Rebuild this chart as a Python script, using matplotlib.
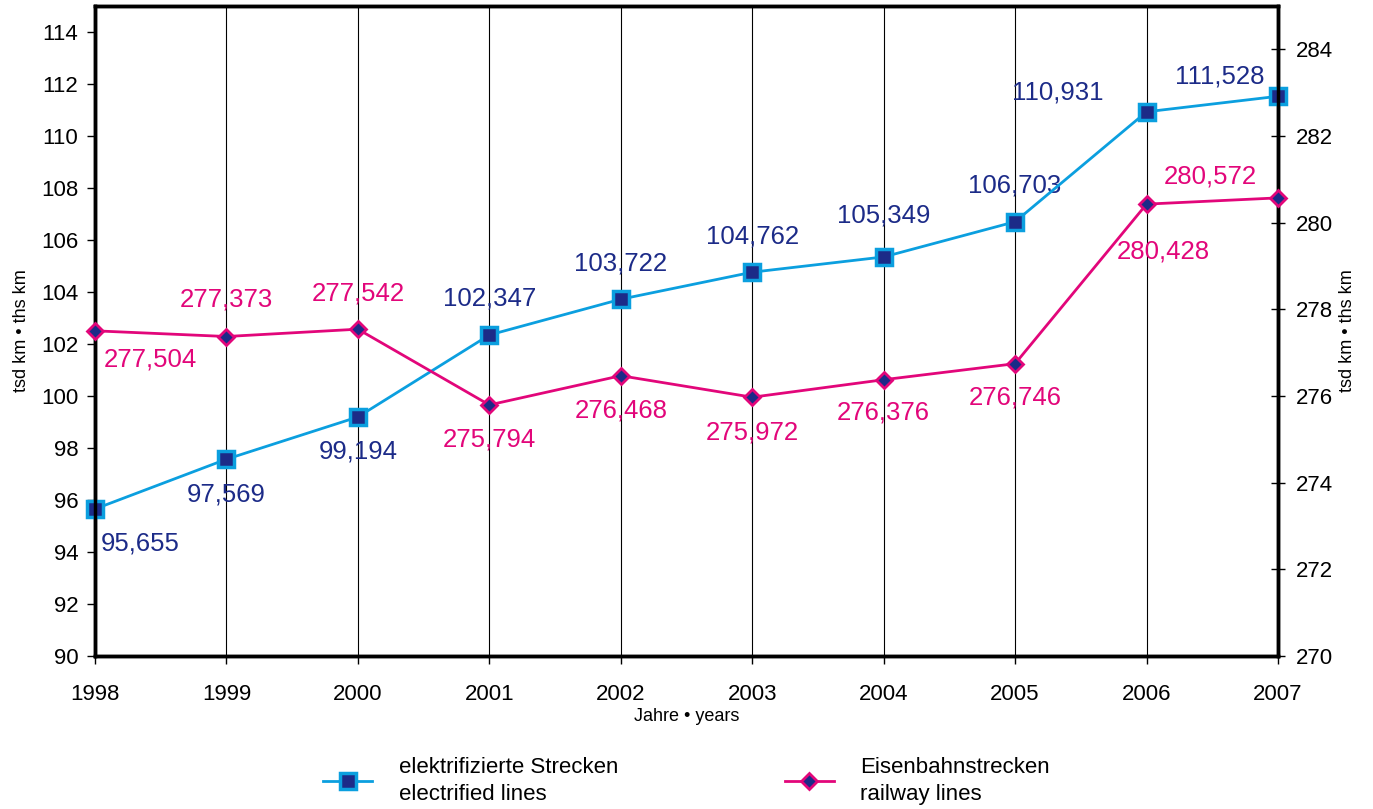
import matplotlib
matplotlib.use("Agg")
import matplotlib.pyplot as plt
from matplotlib.lines import Line2D

plt.rcParams['font.family'] = ['Liberation Sans', 'DejaVu Sans']

years = [1998, 1999, 2000, 2001, 2002, 2003, 2004, 2005, 2006, 2007]
electrified = [95.655, 97.569, 99.194, 102.347, 103.722, 104.762, 105.349, 106.703, 110.931, 111.528]
railway = [277.504, 277.373, 277.542, 275.794, 276.468, 275.972, 276.376, 276.746, 280.428, 280.572]
left_ticks = list(range(90, 115, 2))
right_ticks = list(range(270, 285, 2))

# label offsets in pixels (dx, dy)
blue_off = [(45, -35), (0, -35), (0, -35), (0, 36), (0, 36), (0, 36), (0, 41), (0, 36), (-89, 19), (-58, 20)]
red_off = [(55, -29), (0, 37), (0, 36), (0, -35), (0, -35), (0, -35), (0, -33), (0, -34), (17, -47), (-68, 21)]

BLUE = '#0b9fdf'
NAVY = '#1c2b88'
MAG = '#e2067a'

fig = plt.figure(figsize=(13.73, 8.09), dpi=100)
ax = fig.add_axes([95/1373, 1-656/809, (1278-95)/1373, (656-6)/809])
ax2 = ax.twinx()

ax.set_xlim(1998, 2007)
ax.set_ylim(90, 115)
ax2.set_ylim(270, 285)
ax.set_xticks(years)
ax.set_yticks(left_ticks)
ax2.set_yticks(right_ticks)
ax.tick_params(axis='y', labelsize=16, direction='out', length=6, width=1, pad=6)
ax.tick_params(axis='x', labelsize=16, direction='out', length=6, width=1, pad=14)
ax2.tick_params(axis='y', labelsize=16, direction='inout', length=10, width=1, pad=8)
for yr in years[1:-1]:
    ax.axvline(yr, color='black', lw=0.8, zorder=0)
for s in ax.spines.values():
    s.set_linewidth(2.5)
for s in ax2.spines.values():
    s.set_linewidth(2.5)

ax.plot(years, electrified, color=BLUE, lw=2, marker='s', ms=11, mfc=NAVY, mec=BLUE, mew=2.5, zorder=5, clip_on=False)
ax2.plot(years, railway, color=MAG, lw=2, marker='D', ms=8, mfc=NAVY, mec=MAG, mew=2, zorder=5, clip_on=False)

for x, y, (dx, dy) in zip(years, electrified, blue_off):
    ax.annotate(f"{y:,.3f}".replace('.', ','), (x, y), xytext=(dx, dy), textcoords='offset pixels',
                ha='center', va='center', fontsize=18.5, color=NAVY)
for x, y, (dx, dy) in zip(years, railway, red_off):
    ax2.annotate(f"{y:,.3f}".replace('.', ','), (x, y), xytext=(dx, dy), textcoords='offset pixels',
                 ha='center', va='center', fontsize=18.5, color=MAG)

ax.set_xlabel('Jahre • years', fontsize=13, labelpad=2)
ax.set_ylabel('tsd km • ths km', fontsize=13, labelpad=8)
ax2.set_ylabel('tsd km • ths km', fontsize=13, labelpad=4)

h1 = Line2D([], [], color=BLUE, lw=2, marker='s', ms=11, mfc=NAVY, mec=BLUE, mew=2.5)
h2 = Line2D([], [], color=MAG, lw=2, marker='D', ms=8, mfc=NAVY, mec=MAG, mew=2)
fig.legend([h1, h2], ['elektrifizierte Strecken\nelectrified lines', 'Eisenbahnstrecken\nrailway lines'],
           loc='center', bbox_to_anchor=(0.5, 1-781/809), ncol=2, frameon=False, fontsize=16,
           handlelength=2.2, columnspacing=7.5, handletextpad=1.2)
for t in fig.legends[0].get_texts():
    t.set_linespacing(1.35)

fig.savefig('out.png', dpi=100)
